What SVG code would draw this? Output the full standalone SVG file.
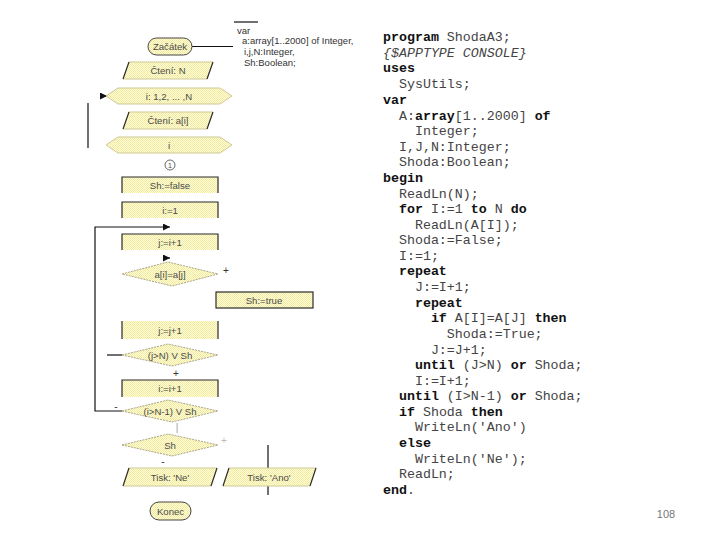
<svg xmlns="http://www.w3.org/2000/svg" width="720" height="540" viewBox="0 0 720 540">
<defs>
<pattern id="dither" width="2" height="2" patternUnits="userSpaceOnUse"><rect width="2" height="2" fill="#fffde2"/><rect width="1" height="1" fill="#f2ea96"/><rect x="1" y="1" width="1" height="1" fill="#f2ea96"/></pattern>
<marker id="ah" viewBox="0 0 8 8" refX="8" refY="4" markerWidth="7" markerHeight="7" orient="auto" markerUnits="userSpaceOnUse"><path d="M0,0 L8,4 L0,8 z" fill="#111"/></marker>
</defs>
<style>
.f{fill:url(#dither)}
.soft{stroke:#cfc998;stroke-width:1;fill:none}
.dash{stroke:#aaa68a;stroke-width:1;stroke-dasharray:2 1;fill:none}
.dark{stroke:#2a2a2a;stroke-width:1.2;fill:none}
.t{font-family:"Liberation Sans",Arial,sans-serif;font-size:9.6px;fill:#4a4a4a;text-anchor:middle;dominant-baseline:central}
.v{font-family:"Liberation Sans",Arial,sans-serif;font-size:9.5px;fill:#333}
.c{font-family:"Liberation Mono","Courier New",monospace;font-size:13.3px;fill:#444;white-space:pre}
.k{font-weight:bold;fill:#111}
.ln{stroke:#111;stroke-width:1.2;fill:none}
.lbl{font-family:"Liberation Sans",Arial,sans-serif;font-size:10px;fill:#333;text-anchor:middle;dominant-baseline:central}
</style>
<rect width="720" height="540" fill="#fff"/>

<g id="connectors">
<path class="ln" d="M192,46.5 H233"/>
<path class="ln" d="M234,22 H258"/>
<path class="ln" d="M100,96 H107" marker-end="url(#ah)"/>
<path class="ln" d="M88,103 V148"/>
<path class="ln" d="M122,411 H95 V227 H170" marker-end="url(#ah)"/>
<path class="ln" d="M163,258 H170" marker-end="url(#ah)"/>
<path class="ln" d="M107,355 H122"/>
<path class="ln" d="M268,445 V469"/>
<path class="ln" d="M268,486 V495"/>
<text class="lbl" x="226" y="270">+</text>
<text class="lbl" x="176" y="373">+</text>
<text class="lbl" x="116" y="406">-</text>
<text class="lbl" x="177" y="427" style="fill:#999">|</text>
<text class="lbl" x="224" y="440" style="fill:#bbb">+</text>
<text class="lbl" x="163" y="461">-</text>
</g>

<g id="var-note">
<text class="v" x="237" y="34">var</text>
<text class="v" x="242" y="44">a:array[1..2000] of Integer,</text>
<text class="v" x="244" y="55">i,j,N:Integer,</text>
<text class="v" x="244" y="66">Sh:Boolean;</text>
</g>

<g id="start">
<rect class="f" x="148" y="38" width="44" height="17" rx="8.5"/>
<rect x="148" y="38" width="44" height="17" rx="8.5" fill="none" stroke="#444" stroke-width="1"/>
<text class="t" x="170" y="46.5">Začátek</text>
</g>

<g id="read-n">
<polygon class="f" points="129,62 213,62 207,79 123,79"/>
<path class="soft" d="M129,62 H213 M123,79 H207"/>
<path class="dark" d="M129,62 L123,79 M213,62 L207,79"/>
<text class="t" x="168" y="70.5">Čtení: N</text>
</g>

<g id="for-head">
<polygon class="f" points="106,96 118,88 220,88 232,96 220,104 118,104"/>
<polygon class="soft" points="106,96 118,88 220,88 232,96 220,104 118,104"/>
<text class="t" x="169" y="96">i: 1,2, ... ,N</text>
</g>

<g id="read-a">
<polygon class="f" points="129,112 213,112 207,129 123,129"/>
<path class="soft" d="M129,112 H213 M123,129 H207"/>
<path class="dark" d="M129,112 L123,129 M213,112 L207,129"/>
<text class="t" x="168" y="120.5">Čtení: a[i]</text>
</g>

<g id="for-end">
<polygon class="f" points="106,145 118,137 220,137 232,145 220,153 118,153"/>
<polygon class="soft" points="106,145 118,137 220,137 232,145 220,153 118,153"/>
<text class="t" x="169" y="145">i</text>
</g>

<g id="connector-1">
<circle cx="170" cy="165" r="5" fill="none" stroke="#444" stroke-width="0.8"/>
<text class="t" x="170" y="165" style="font-size:7px">1</text>
</g>

<g id="sh-false">
<rect class="f" x="122" y="177" width="96" height="16"/>
<path class="dark" d="M122,193 V177 H218 V193"/>
<text class="t" x="170" y="185">Sh:=false</text>
</g>

<g id="i-1">
<rect class="f" x="122" y="202" width="96" height="16"/>
<path class="dark" d="M122,218 V202 H218 V218"/>
<text class="t" x="170" y="210">i:=1</text>
</g>

<g id="j-i1">
<rect class="f" x="122" y="234" width="96" height="16"/>
<path class="dark" d="M122,250 V234 H218 V250"/>
<text class="t" x="170" y="242">j:=i+1</text>
</g>

<g id="cmp">
<polygon class="f" points="122,274 168,262 218,274 172,286"/>
<polygon class="dash" points="122,274 168,262 218,274 172,286"/>
<text class="t" x="170" y="274">a[i]=a[j]</text>
</g>

<g id="sh-true">
<rect class="f" x="216" y="292" width="97" height="16"/>
<rect class="dark" x="216" y="292" width="97" height="16"/>
<text class="t" x="264" y="300">Sh:=true</text>
</g>

<g id="j-j1">
<rect class="f" x="122" y="321" width="96" height="18"/>
<path class="dark" d="M122,321 V339 M218,321 V339" stroke-width="1.6"/>
<text class="t" x="170" y="330">j:=j+1</text>
</g>

<g id="inner-until">
<polygon class="f" points="122,355 168,344 218,355 172,366"/>
<polygon class="dash" points="122,355 168,344 218,355 172,366"/>
<text class="t" x="170" y="355">(j&gt;N) V Sh</text>
</g>

<g id="i-i1">
<rect class="f" x="122" y="380" width="96" height="17"/>
<path class="dark" d="M122,397 V380 H218 V397"/>
<text class="t" x="170" y="388.5">i:=i+1</text>
</g>

<g id="outer-until">
<polygon class="f" points="122,411 168,400 218,411 172,422"/>
<polygon class="dash" points="122,411 168,400 218,411 172,422"/>
<text class="t" x="170" y="411">(i&gt;N-1) V Sh</text>
</g>

<g id="if-sh">
<polygon class="f" points="122,445 168,434 218,445 172,456"/>
<polygon class="dash" points="122,445 168,434 218,445 172,456"/>
<text class="t" x="170" y="445">Sh</text>
</g>

<g id="print-ne">
<polygon class="f" points="129,468 217,468 211,486 123,486"/>
<path class="soft" d="M129,468 H217 M123,486 H211"/>
<path class="dark" d="M129,468 L123,486 M217,468 L211,486"/>
<text class="t" x="170" y="477">Tisk: 'Ne'</text>
</g>

<g id="print-ano">
<polygon class="f" points="229,468 316,468 310,486 223,486"/>
<path class="soft" d="M229,468 H316 M223,486 H310"/>
<path class="dark" d="M229,468 L223,486 M316,468 L310,486"/>
<text class="t" x="269" y="477">Tisk: 'Ano'</text>
</g>

<g id="end">
<rect class="f" x="150" y="502" width="41" height="18" rx="9"/>
<rect x="150" y="502" width="41" height="18" rx="9" fill="none" stroke="#444" stroke-width="1"/>
<text class="t" x="170.5" y="511">Konec</text>
</g>

<g id="code">
<text class="c" x="383" y="41"><tspan class="k">program</tspan> ShodaA3;</text>
<text class="c" x="383" y="57" font-style="italic">{$APPTYPE CONSOLE}</text>
<text class="c" x="383" y="72"><tspan class="k">uses</tspan></text>
<text class="c" x="383" y="88">  SysUtils;</text>
<text class="c" x="383" y="104"><tspan class="k">var</tspan></text>
<text class="c" x="383" y="120">  A:<tspan class="k">array</tspan>[1..2000] <tspan class="k">of</tspan></text>
<text class="c" x="383" y="135">    Integer;</text>
<text class="c" x="383" y="151">  I,J,N:Integer;</text>
<text class="c" x="383" y="166">  Shoda:Boolean;</text>
<text class="c" x="383" y="182"><tspan class="k">begin</tspan></text>
<text class="c" x="383" y="198">  ReadLn(N);</text>
<text class="c" x="383" y="213">  <tspan class="k">for</tspan> I:=1 <tspan class="k">to</tspan> N <tspan class="k">do</tspan></text>
<text class="c" x="383" y="229">    ReadLn(A[I]);</text>
<text class="c" x="383" y="244">  Shoda:=False;</text>
<text class="c" x="383" y="260">  I:=1;</text>
<text class="c" x="383" y="275">  <tspan class="k">repeat</tspan></text>
<text class="c" x="383" y="291">    J:=I+1;</text>
<text class="c" x="383" y="307">    <tspan class="k">repeat</tspan></text>
<text class="c" x="383" y="322">      <tspan class="k">if</tspan> A[I]=A[J] <tspan class="k">then</tspan></text>
<text class="c" x="383" y="338">        Shoda:=True;</text>
<text class="c" x="383" y="354">      J:=J+1;</text>
<text class="c" x="383" y="369">    <tspan class="k">until</tspan> (J&gt;N) <tspan class="k">or</tspan> Shoda;</text>
<text class="c" x="383" y="385">    I:=I+1;</text>
<text class="c" x="383" y="400">  <tspan class="k">until</tspan> (I&gt;N-1) <tspan class="k">or</tspan> Shoda;</text>
<text class="c" x="383" y="416">  <tspan class="k">if</tspan> Shoda <tspan class="k">then</tspan></text>
<text class="c" x="383" y="431">    WriteLn('Ano')</text>
<text class="c" x="383" y="447">  <tspan class="k">else</tspan></text>
<text class="c" x="383" y="463">    WriteLn('Ne');</text>
<text class="c" x="383" y="478">  ReadLn;</text>
<text class="c" x="383" y="494"><tspan class="k">end</tspan>.</text>
</g>

<text x="666" y="518" font-family="'Liberation Sans',Arial,sans-serif" font-size="11" fill="#777" text-anchor="middle">108</text>
</svg>
